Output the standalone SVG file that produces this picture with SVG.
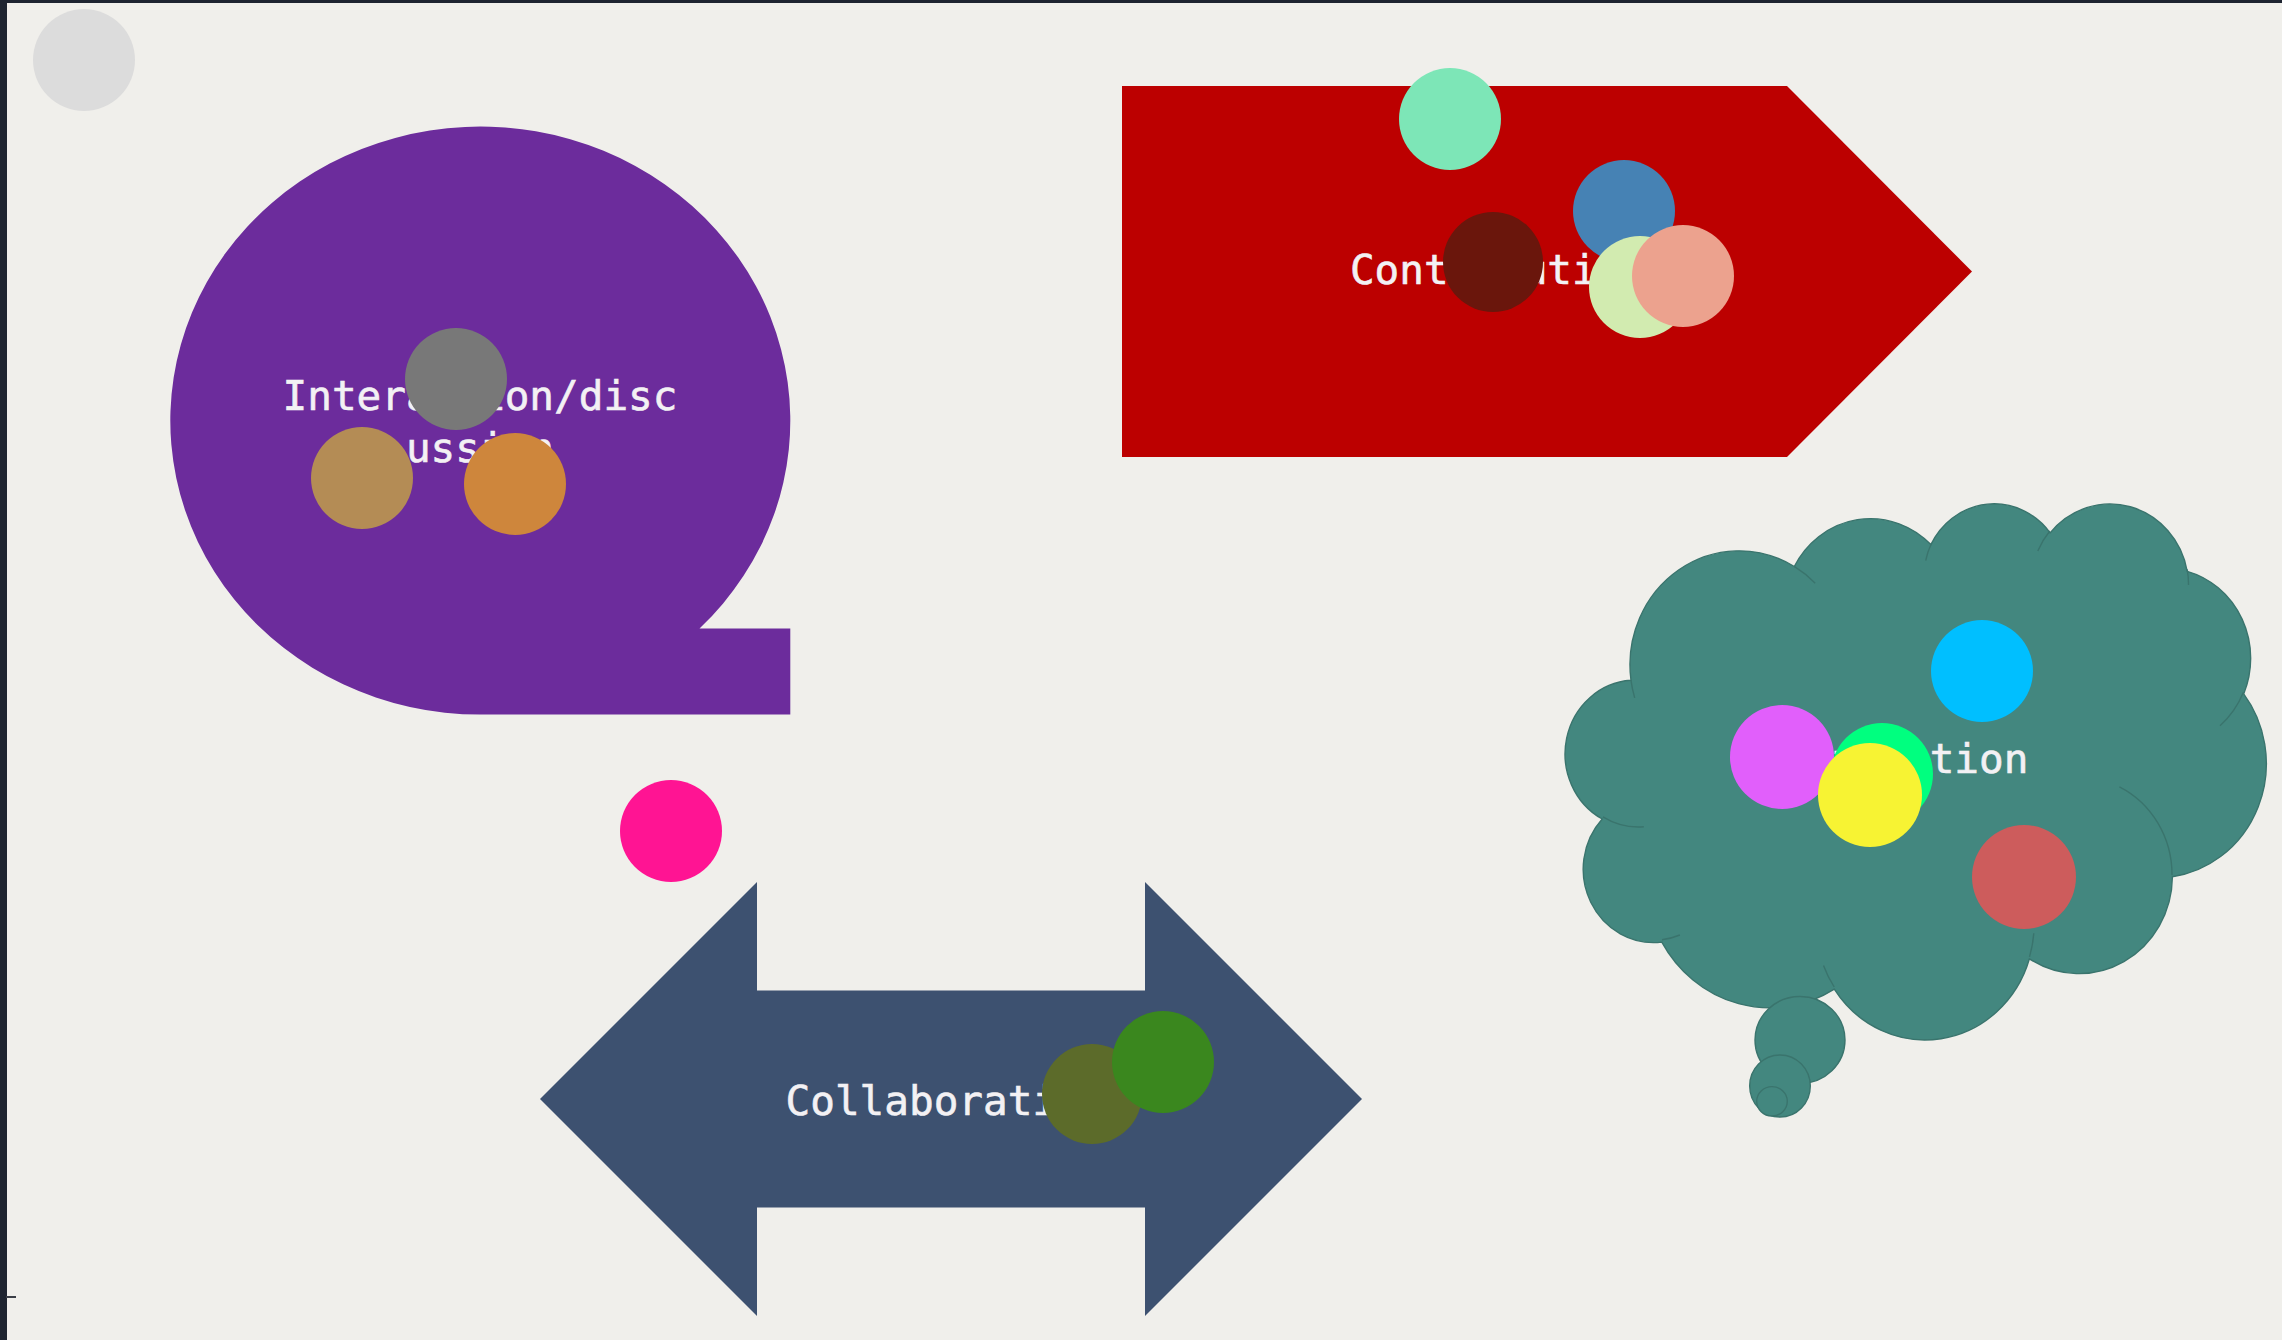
<svg xmlns="http://www.w3.org/2000/svg" width="2282" height="1340" viewBox="0 0 2282 1340">
<defs>
<style>
.lbl{font-family:"DejaVu Sans Mono","Liberation Mono",monospace;font-size:41px;fill:#f3f1f4;stroke:#f3f1f4;stroke-width:0.6;text-anchor:middle}
.dot{stroke:none}
.cl{fill:#43877f;stroke:#3a746d;stroke-width:1.4}
.inner{fill:none;stroke:#3a746d;stroke-width:1.4}
</style>
</defs>
<rect x="0" y="0" width="2282" height="1340" fill="#f0efeb"/>
<rect x="0" y="0" width="2282" height="3" fill="#1e2430"/>
<rect x="0" y="0" width="7" height="1340" fill="#1e2430"/>
<line x1="6" y1="1297" x2="16" y2="1297" stroke="#3a3e46" stroke-width="2"/>

<g id="connectors"></g>

<g id="marker-topleft">
<circle class="dot" cx="84" cy="60" r="51" fill="#dcdcdc"/>
</g>

<g id="node-interaction">
<path d="M480.3,714.6 A310 294 0 1 1 699.5,628.5 L790.3,628.5 L790.3,714.6 Z" fill="#6c2c9c"/>
<text class="lbl" x="480" y="410">Interaction/disc</text>
<text class="lbl" x="480" y="462">ussion</text>
<circle class="dot" cx="456" cy="379" r="51" fill="#787878"/>
<circle class="dot" cx="362" cy="478" r="51" fill="#b48c55"/>
<circle class="dot" cx="515" cy="484" r="51" fill="#ce863c"/>
</g>

<g id="node-contribution">
<polygon points="1122,86 1787,86 1972,271.5 1787,457 1122,457" fill="#bc0000"/>
<text class="lbl" x="1498" y="284">Contribution</text>
<circle class="dot" cx="1450" cy="119" r="51" fill="#7de6b7"/>
<circle class="dot" cx="1624" cy="211" r="51" fill="#4682b4"/>
<circle class="dot" cx="1493" cy="262" r="50" fill="#6a160c"/>
<circle class="dot" cx="1640" cy="287" r="51" fill="#d2ebb0"/>
<circle class="dot" cx="1683" cy="276" r="51" fill="#eca28e"/>
</g>

<g id="node-reflection">
<path class="cl" d="M1631.0,680.3 A109.11 114.02 0 0 1 1794.3,566.5 A86.17 90.16 0 0 1 1930.9,544.6 A70.53 73.76 0 0 1 2050.1,532.9 A78.48 81.83 0 0 1 2187.2,571.3 A86.17 90.24 0 0 1 2243.7,693.9 A109.47 114.40 0 0 1 2172.4,876.8 A93.47 97.61 0 0 1 2029.4,958.8 A109.09 114.33 0 0 1 1834.3,989.2 A124.74 130.81 0 0 1 1661.8,942.1 A70.45 73.43 0 0 1 1602.2,819.0 A70.20 73.76 0 0 1 1631.0,680.3 Z"/>
<path class="inner" d="M1643.8,826.8 A70.20 73.76 0 0 1 1602.9,816.9 M1679.9,935.0 A70.45 73.43 0 0 1 1662.0,939.7 M1834.2,987.0 A109.09 114.33 0 0 1 1823.5,965.4 M2033.8,933.2 A109.09 114.33 0 0 1 2029.5,956.9 M2119.4,786.8 A93.47 97.61 0 0 1 2172.0,875.3 M2243.3,692.5 A86.17 90.24 0 0 1 2220.0,725.7 M2187.2,569.3 A78.48 81.83 0 0 1 2188.5,585.0 M2037.8,551.0 A78.48 81.83 0 0 1 2049.8,531.0 M1925.7,560.6 A70.53 73.76 0 0 1 1931.5,543.3 M1794.2,566.4 A109.11 114.02 0 0 1 1815.2,583.2 M1634.7,697.9 A109.11 114.02 0 0 1 1631.0,680.3"/>
<ellipse class="cl" cx="1800" cy="1040" rx="45" ry="43.5"/>
<ellipse class="cl" cx="1780" cy="1086" rx="30.3" ry="31"/>
<ellipse class="cl" cx="1772" cy="1101.3" rx="15.3" ry="14.7"/>
<text class="lbl" x="1905" y="773">Reflection</text>
<circle class="dot" cx="1982" cy="671" r="51" fill="#00bfff"/>
<circle class="dot" cx="1782" cy="757" r="52" fill="#e15ffb"/>
<circle class="dot" cx="1882" cy="774" r="51" fill="#00ff7f"/>
<circle class="dot" cx="1870" cy="795" r="52" fill="#f7f333"/>
<circle class="dot" cx="2024" cy="877" r="52" fill="#cd5c5c"/>
</g>

<g id="node-collaboration">
<polygon points="540,1099 757,882 757,990.5 1145,990.5 1145,882 1362,1099 1145,1316 1145,1207.5 757,1207.5 757,1316" fill="#3d5170"/>
<text class="lbl" x="946" y="1115">Collaboration</text>
<circle class="dot" cx="1092" cy="1094" r="50" fill="#5c6b2a"/>
<circle class="dot" cx="1163" cy="1062" r="51" fill="#3a871e"/>
</g>

<g id="marker-pink">
<circle class="dot" cx="671" cy="831" r="51" fill="#ff1493"/>
</g>
</svg>
